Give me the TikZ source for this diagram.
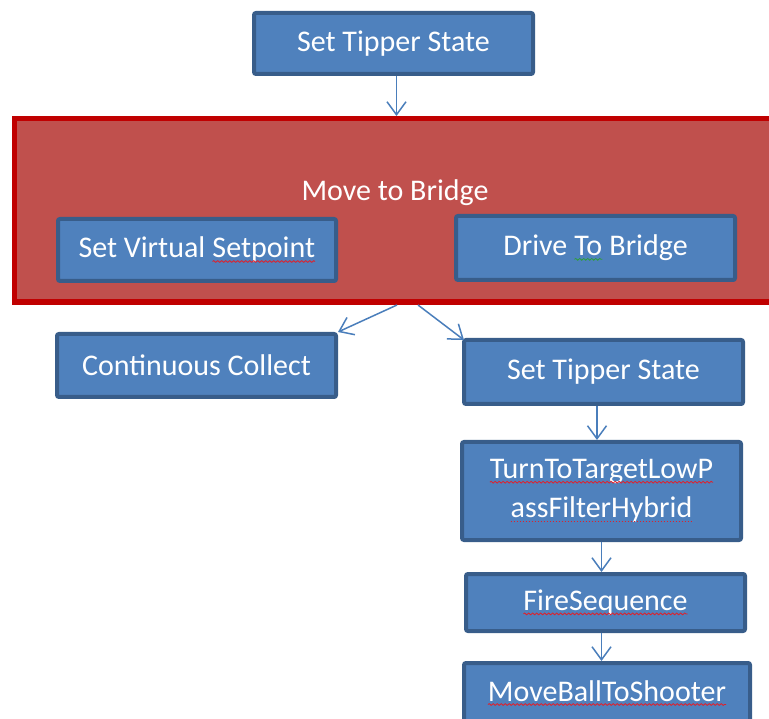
\documentclass[tikz,border=0pt]{standalone}
\usepackage{fontspec}
\setmainfont{Carlito}
\usetikzlibrary{arrows.meta,decorations.pathmorphing}
\definecolor{boxfill}{HTML}{4F81BD}
\definecolor{boxline}{HTML}{385D8A}
\definecolor{redfill}{HTML}{C0504D}
\definecolor{redline}{HTML}{C00000}
\definecolor{arrowc}{HTML}{4A7EBB}
\definecolor{spellred}{HTML}{E0202A}
\definecolor{spellgreen}{HTML}{2E9E3A}
\tikzset{
  stepbox/.style={draw=boxline, fill=boxfill, line width=4pt, rounded corners=2pt,
    text=white, font=\fontsize{30}{39}\selectfont, align=center, inner sep=0pt},
  groupbox/.style={draw=redline, fill=redfill, line width=5.5pt, inner sep=0pt},
  grouplabel/.style={text=white, font=\fontsize{30}{39}\selectfont, inner sep=0pt},
  flow/.style={draw=arrowc, line width=1.5pt, -{Straight Barb[length=13pt,width=19pt,line width=1.5pt]}},
  wavy/.style={line width=0.8pt, decorate, decoration={snake, amplitude=0.9pt, segment length=4pt}},
  dotty/.style={line width=1pt, dash pattern=on 1.5pt off 1.5pt},
}
\newcommand\spellmark[2]{\tikz[baseline=(w.base)]{%
  \node[shape=rectangle, draw=none, fill=none, inner sep=0pt, outer sep=0pt,
        minimum width=0pt, minimum height=0pt, rounded corners=0pt, text=white] (w) {#2};%
  \draw[#1, fill=none, rounded corners=0pt, line width=0.8pt]
        ([yshift=-3.5pt]w.base west) -- ([yshift=-3.5pt]w.base east);}}
\begin{document}
\begin{tikzpicture}[x=1pt, y=-1pt]
\useasboundingbox (0,0) rectangle (769,719);
\clip (0,0) rectangle (769,719);

% group box (runs off the right edge)
\node[groupbox, minimum width=835pt, minimum height=183.5pt] (red) at (432,210.5) {};
\node[grouplabel] (mtb) at (395,193) {Move to Bridge};

% steps
\node[stepbox, minimum width=279pt, minimum height=61pt] (top) at (393.5,43.5) {Set Tipper State};
\node[stepbox, minimum width=278pt, minimum height=62pt] (svs) at (197,250)
  {Set Virtual \spellmark{spellred,wavy}{Setpoint}};
\node[stepbox, minimum width=279pt, minimum height=64pt] (dtb) at (595.5,248)
  {Drive \spellmark{spellgreen,wavy}{To} Bridge};
\node[stepbox, minimum width=279pt, minimum height=63pt] (cc) at (196.5,365.5) {Continuous Collect};
\node[stepbox, minimum width=279pt, minimum height=64pt] (ts2) at (603.5,372) {Set Tipper State};
\node[stepbox, minimum width=279pt, minimum height=98pt] (tt) at (601.5,491)
  {\spellmark{spellred,wavy}{TurnToTargetLowP}\\\spellmark{spellred,dotty}{assFilterHybrid}};
\node[stepbox, minimum width=279pt, minimum height=57pt] (fs) at (605.5,602.5)
  {\spellmark{spellred,wavy}{FireSequence}};
\node[stepbox, minimum width=286pt, minimum height=60pt] (mb) at (607,693)
  {\spellmark{spellred,wavy}{MoveBallToShooter}};

% connectors
\coordinate (r1) at (397,305);
\coordinate (r2) at (418,305);
\draw[flow] ([xshift=3pt]top.south) -- ([xshift=3pt]top.south |- red.north);
\draw[flow] (r1) -- (cc.north east);
\draw[flow] (r2) -- ([xshift=2pt,yshift=-2pt]ts2.north west);
\draw[flow] ([xshift=-6.5pt]ts2.south) -- ([xshift=-6.5pt]ts2.south |- tt.north);
\draw[flow] (tt.south) -- (tt.south |- fs.north);
\draw[flow] (tt.south |- fs.south) -- (tt.south |- mb.north);
\end{tikzpicture}
\end{document}
